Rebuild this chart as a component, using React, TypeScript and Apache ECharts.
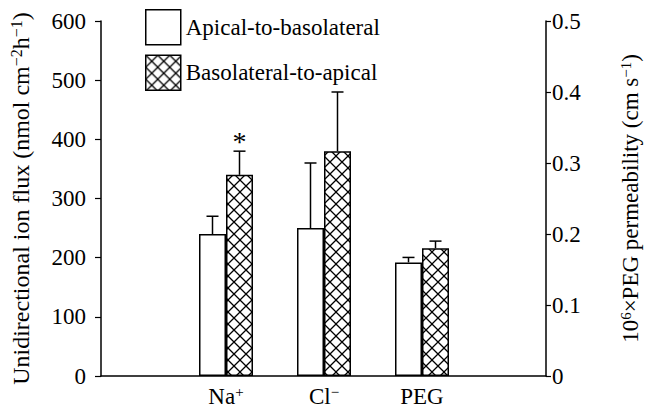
import React, { useEffect, useRef } from 'react';
import * as echarts from 'echarts';

// ---------- data ----------
const categories = ['Na', 'Cl', 'PEG'];
const categorySuperscripts = ['+', '−', ''];
const seriesNames = ['Apical-to-basolateral', 'Basolateral-to-apical'];

// Unidirectional ion flux (nmol cm-2 h-1), left axis
const apicalToBasoFlux = [240, 250, null];
const apicalToBasoFluxSE = [30, 110, null];
const basoToApicalFlux = [340, 380, null];
const basoToApicalFluxSE = [40, 100, null];

// 10^6 x PEG permeability (cm s-1), right axis
const apicalToBasoPerm = [null, null, 0.16];
const apicalToBasoPermSE = [null, null, 0.007];
const basoToApicalPerm = [null, null, 0.18];
const basoToApicalPermSE = [null, null, 0.01];

const basoToApicalMarks = ['*', '', ''];

const leftAxisMax = 600;
const leftAxisInterval = 100;
const rightAxisMax = 0.5;
const rightAxisInterval = 0.1;

// ---------- styles ----------
const FONT = "'Liberation Serif', 'Times New Roman', serif";
const FS = 23;
const NAME_FS = 24;
const BAR_W = 27;
const INK = '#000';

function makeHatch(): HTMLCanvasElement {
  const s = 12;
  const c = document.createElement('canvas');
  c.width = s;
  c.height = s;
  const ctx = c.getContext('2d')!;
  ctx.fillStyle = '#fff';
  ctx.fillRect(0, 0, s, s);
  ctx.strokeStyle = '#000';
  ctx.lineWidth = 1.3;
  ctx.beginPath();
  ctx.moveTo(-1, -1);
  ctx.lineTo(s + 1, s + 1);
  ctx.moveTo(s + 1, -1);
  ctx.lineTo(-1, s + 1);
  ctx.stroke();
  return c;
}

const supRich = {
  sup: { fontFamily: FONT, fontSize: 15, color: INK, verticalAlign: 'top', lineHeight: 25 },
  n: { fontFamily: FONT, fontSize: FS, color: INK, lineHeight: 25 },
};
const nameRich = {
  sup: { fontFamily: FONT, fontSize: 16, color: INK, verticalAlign: 'top', lineHeight: 26 },
  n: { fontFamily: FONT, fontSize: NAME_FS, color: INK, lineHeight: 26 },
};

function errorSeries(
  means: (number | null)[],
  ses: (number | null)[],
  dir: number,
  xAxisIndex: number,
  yAxisIndex: number,
  marks?: string[]
) {
  const data: number[][] = [];
  means.forEach((m, i) => {
    if (m != null && ses[i] != null) data.push([i, m, ses[i] as number]);
  });
  return {
    type: 'custom',
    xAxisIndex,
    yAxisIndex,
    z: 5,
    silent: true,
    data,
    renderItem: (_params: any, api: any) => {
      const idx = api.value(0);
      const mean = api.value(1);
      const se = api.value(2);
      const x = api.coord([idx, 0])[0] + (dir * BAR_W) / 2;
      const yTop = api.coord([idx, mean])[1];
      const yErr = api.coord([idx, mean + se])[1];
      const children: any[] = [
        { type: 'line', shape: { x1: x, y1: yTop, x2: x, y2: yErr }, style: { stroke: INK, lineWidth: 1.5 } },
        { type: 'line', shape: { x1: x - 6, y1: yErr, x2: x + 6, y2: yErr }, style: { stroke: INK, lineWidth: 1.5 } },
      ];
      const mark = marks ? marks[idx] : '';
      if (mark) {
        children.push({
          type: 'text',
          x,
          y: yErr + 4,
          style: { text: mark, font: `28px ${FONT}`, fill: INK, align: 'center', verticalAlign: 'bottom' },
        });
      }
      return { type: 'group', children };
    },
  };
}

export default function App() {
  const ref = useRef<HTMLDivElement>(null);

  useEffect(() => {
    if (!ref.current) return;
    const chart = echarts.init(ref.current, undefined, { renderer: 'svg' });
    const hatch = makeHatch();
    const hatchFill: any = { image: hatch, repeat: 'repeat' };

    const gridTop = 21;
    const gridBottom = 33;

    const apicalStyle = { color: '#fff', borderColor: INK, borderWidth: 1.5 };
    const basoStyle = { color: hatchFill, borderColor: INK, borderWidth: 1.5 };

    const option: any = {
      animation: false,
      backgroundColor: '#fff',
      textStyle: { fontFamily: FONT, color: INK },
      legend: {
        data: seriesNames,
        orient: 'vertical',
        left: 140,
        top: 4,
        itemWidth: 35,
        itemHeight: 35,
        itemGap: 9,
        icon: 'rect',
        itemStyle: { borderColor: INK, borderWidth: 1.5 },
        textStyle: { fontFamily: FONT, fontSize: FS, color: INK },
        selectedMode: false,
      },
      grid: [
        { left: 100, right: 88, top: gridTop, bottom: gridBottom },
        { left: 177, right: 179, top: gridTop, bottom: gridBottom },
        { left: 177, right: 179, top: gridTop, bottom: gridBottom },
      ],
      xAxis: [
        {
          gridIndex: 0,
          type: 'value',
          min: 0,
          max: 1,
          axisLine: { show: true, onZero: false, lineStyle: { color: INK, width: 1.5 } },
          axisTick: { show: false },
          axisLabel: { show: false },
          splitLine: { show: false },
        },
        {
          gridIndex: 1,
          type: 'category',
          data: categories,
          axisLine: { show: false },
          axisTick: { show: false },
          axisLabel: {
            interval: 0,
            margin: 8,
            fontFamily: FONT,
            fontSize: FS,
            color: INK,
            formatter: (v: string) => {
              const i = categories.indexOf(v);
              const sup = categorySuperscripts[i];
              return sup ? `{n|${v}}{sup|${sup}}` : `{n|${v}}`;
            },
            rich: supRich,
          },
          splitLine: { show: false },
        },
        {
          gridIndex: 2,
          type: 'category',
          data: categories,
          show: false,
        },
      ],
      yAxis: [
        {
          gridIndex: 0,
          type: 'value',
          position: 'left',
          min: 0,
          max: leftAxisMax,
          interval: leftAxisInterval,
          axisLine: { show: true, lineStyle: { color: INK, width: 1.5 } },
          axisTick: { show: true, length: 6, lineStyle: { color: INK, width: 1.2 } },
          axisLabel: { margin: 15, fontFamily: FONT, fontSize: FS, color: INK },
          splitLine: { show: false },
          name: '{n|Unidirectional ion flux (nmol cm}{sup|−2}{n|h}{sup|−1}{n|)}',
          nameLocation: 'middle',
          nameRotate: 90,
          nameGap: 67,
          nameTextStyle: { fontFamily: FONT, fontSize: NAME_FS, color: INK, rich: nameRich },
        },
        {
          gridIndex: 0,
          type: 'value',
          position: 'right',
          min: 0,
          max: rightAxisMax,
          interval: rightAxisInterval,
          axisLine: { show: true, lineStyle: { color: INK, width: 1.5 } },
          axisTick: { show: true, length: 5, lineStyle: { color: INK, width: 1.2 } },
          axisLabel: { margin: 6, fontFamily: FONT, fontSize: FS, color: INK },
          splitLine: { show: false },
          name: '{n|10}{sup|6}{n|×PEG permeability (cm s}{sup|−1}{n|)}',
          nameLocation: 'middle',
          nameRotate: 90,
          nameGap: 72,
          nameTextStyle: { fontFamily: FONT, fontSize: FS, color: INK, rich: supRich },
        },
        { gridIndex: 1, type: 'value', min: 0, max: leftAxisMax, show: false, splitLine: { show: false } },
        { gridIndex: 2, type: 'value', min: 0, max: rightAxisMax, show: false, splitLine: { show: false } },
      ],
      series: [
        {
          name: seriesNames[0],
          type: 'bar',
          xAxisIndex: 1,
          yAxisIndex: 2,
          data: apicalToBasoFlux.map((v) => (v == null ? '-' : v)),
          barWidth: BAR_W,
          barGap: '0%',
          itemStyle: apicalStyle,
        },
        {
          name: seriesNames[1],
          type: 'bar',
          xAxisIndex: 1,
          yAxisIndex: 2,
          data: basoToApicalFlux.map((v) => (v == null ? '-' : v)),
          barWidth: BAR_W,
          barGap: '0%',
          itemStyle: basoStyle,
        },
        {
          name: seriesNames[0],
          type: 'bar',
          xAxisIndex: 2,
          yAxisIndex: 3,
          data: apicalToBasoPerm.map((v) => (v == null ? '-' : v)),
          barWidth: BAR_W,
          barGap: '0%',
          itemStyle: apicalStyle,
        },
        {
          name: seriesNames[1],
          type: 'bar',
          xAxisIndex: 2,
          yAxisIndex: 3,
          data: basoToApicalPerm.map((v) => (v == null ? '-' : v)),
          barWidth: BAR_W,
          barGap: '0%',
          itemStyle: basoStyle,
        },
        errorSeries(apicalToBasoFlux, apicalToBasoFluxSE, -1, 1, 2),
        errorSeries(basoToApicalFlux, basoToApicalFluxSE, 1, 1, 2, basoToApicalMarks),
        errorSeries(apicalToBasoPerm, apicalToBasoPermSE, -1, 2, 3),
        errorSeries(basoToApicalPerm, basoToApicalPermSE, 1, 2, 3),
      ],
    };

    chart.setOption(option);
    return () => chart.dispose();
  }, []);

  return (
    <div
      ref={ref}
      style={{ position: 'fixed', left: 0, top: 0, width: 650, height: 409, background: '#fff' }}
    />
  );
}
